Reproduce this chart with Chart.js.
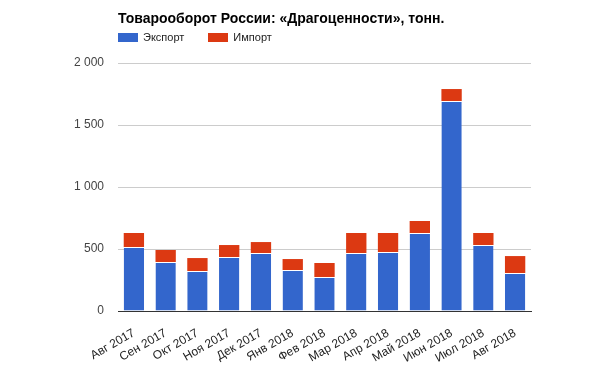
<!DOCTYPE html>
<html>
<head>
<meta charset="utf-8">
<script src="https://cdn.jsdelivr.net/npm/chart.js@4.4.0/dist/chart.umd.min.js"></script>
<style>
    body { margin: 0; background: #fff; font-family: "Liberation Sans", Arial, sans-serif; }
    #wrap { position: relative; width: 600px; height: 375px; }
    #title { position: absolute; left: 118px; top: 10px; font-size: 14px; font-weight: bold; color: #000; }
    #legend { position: absolute; left: 118px; top: 31px; font-size: 11px; color: #222; }
    .item { display: inline-block; margin-right: 24px; }
    .box { display: inline-block; width: 20px; height: 9px; vertical-align: -1px; margin-right: 5px; }
</style>
</head>
<body>
<div id="wrap">
    <canvas id="chart" width="600" height="375"></canvas>
    <div id="title">Товарооборот России: «Драгоценности», тонн.</div>
    <div id="legend"></div>
</div>
<script>
const categories = ['Авг 2017', 'Сен 2017', 'Окт 2017', 'Ноя 2017', 'Дек 2017', 'Янв 2018', 'Фев 2018',
    'Мар 2018', 'Апр 2018', 'Май 2018', 'Июн 2018', 'Июл 2018', 'Авг 2018'];
const exportValues = [516, 395, 322, 435, 467, 330, 274, 467, 475, 629, 1693, 532, 306];
const importValues = [113, 97, 105, 97, 89, 89, 113, 162, 154, 97, 97, 97, 137];
const yTicks = [0, 500, 1000, 1500, 2000];

const seriesNames = ['Экспорт', 'Импорт'];
const seriesColors = ['#3366cc', '#dc3912'];

// legend as plain html
const legend = document.getElementById('legend');
seriesNames.forEach(function(name, i) {
    const item = document.createElement('span');
    item.className = 'item';
    item.innerHTML = '<span class="box" style="background:' + seriesColors[i] + '"></span>' + name;
    legend.appendChild(item);
});

function fmt(v) {
    return String(v).replace(/\B(?=(\d{3})+(?!\d))/g, ' ');
}

new Chart(document.getElementById('chart'), {
    type: 'bar',
    data: {
        labels: categories,
        datasets: [{
            label: seriesNames[0],
            data: exportValues,
            backgroundColor: seriesColors[0],
            borderColor: '#ffffff',
            borderWidth: { top: 1, left: 0, right: 0, bottom: 0 },
            borderSkipped: false,
            barPercentage: 0.64,
            categoryPercentage: 1
        }, {
            label: seriesNames[1],
            data: importValues,
            backgroundColor: seriesColors[1],
            borderWidth: 0,
            barPercentage: 0.64,
            categoryPercentage: 1
        }]
    },
    options: {
        responsive: false,
        animation: false,
        layout: { padding: { left: 70, right: 69, top: 63, bottom: 0 } },
        plugins: {
            legend: { display: false },
            title: { display: false },
            tooltip: { enabled: false }
        },
        scales: {
            x: {
                stacked: true,
                afterFit: function(axis) { axis.height = 64; },
                grid: { display: false },
                border: { color: '#333333' },
                ticks: {
                    color: '#222222',
                    font: { family: 'Liberation Sans', size: 12 },
                    minRotation: 30,
                    maxRotation: 30,
                    autoSkip: false,
                    padding: 7
                }
            },
            y: {
                stacked: true,
                min: 0,
                max: 2000,
                afterBuildTicks: function(axis) {
                    axis.ticks = yTicks.map(function(v) { return { value: v }; });
                },
                afterFit: function(axis) { axis.width = 48; },
                grid: { color: '#cccccc', drawTicks: false },
                border: { display: false },
                ticks: {
                    color: '#444444',
                    font: { family: 'Liberation Sans', size: 12 },
                    padding: 14,
                    callback: function(v) { return fmt(v); }
                }
            }
        }
    }
});
</script>
</body>
</html>
